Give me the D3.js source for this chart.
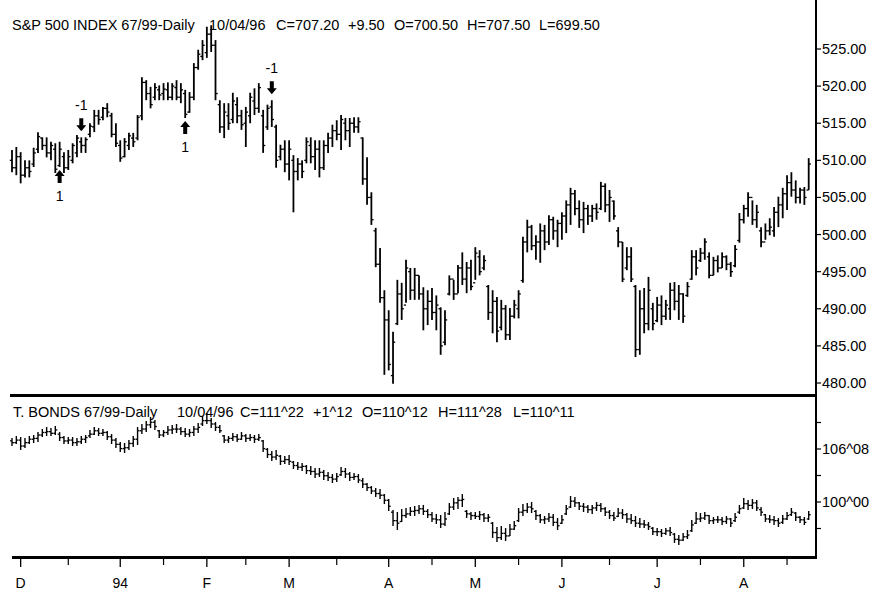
<!DOCTYPE html>
<html><head><meta charset="utf-8">
<script src="https://cdn.jsdelivr.net/npm/d3@7"></script>
<style>body{margin:0;background:#fff}svg{display:block}text{font-family:"Liberation Sans",Arial,sans-serif;fill:#000}</style>
</head><body><svg id="c" width="873" height="592"></svg>
<script>
// ---------- DATA ----------
const spxHigh=[511.4,511.8,511.1,510.0,510.0,511.7,513.8,513.1,513.1,512.5,
512.3,512.5,511.1,511.4,512.3,513.4,513.1,513.1,515.0,516.8,
516.8,517.2,517.7,516.4,515.0,512.7,513.0,513.7,513.7,516.1,
521.2,520.8,519.9,520.4,520.1,520.4,520.5,520.4,520.8,520.4,
519.5,519.2,523.1,524.9,526.2,528.0,528.2,526.2,518.1,517.7,
517.7,519.1,518.5,516.8,517.2,519.1,519.7,520.4,516.8,517.5,
518.1,514.8,512.1,512.7,512.7,510.7,510.3,510.0,513.1,513.1,
512.7,512.7,512.7,513.7,514.8,515.4,516.1,515.7,515.7,515.8,
515.8,513.1,510.4,505.7,500.9,498.2,492.5,489.8,486.9,493.9,
493.5,496.6,495.5,495.5,494.5,492.9,492.5,492.8,491.8,490.2,
489.8,494.5,493.9,495.9,497.6,496.3,496.6,498.3,497.9,497.2,
493.2,492.5,491.6,491.2,490.5,490.1,491.2,492.5,499.7,502.0,
501.3,499.9,501.5,501.3,502.6,502.4,502.0,503.0,504.6,506.3,
506.0,504.6,504.4,504.0,504.0,504.2,507.1,506.9,506.0,504.6,
501.0,499.0,498.3,498.3,493.2,492.5,492.8,494.3,490.8,491.6,
491.8,491.2,493.5,493.6,493.2,492.1,493.6,497.9,497.9,498.2,
499.5,497.6,497.0,497.2,497.6,497.2,496.3,498.6,502.9,504.0,
505.7,504.6,504.0,501.0,501.5,502.2,503.7,505.1,506.3,508.0,
508.4,507.3,506.3,506.4,510.3];
const spxLow=[508.4,508.0,506.9,507.7,507.7,509.1,511.0,511.4,510.4,510.0,
508.3,509.1,508.3,508.7,509.6,510.4,511.0,511.0,513.1,513.8,
514.8,515.4,515.8,513.1,511.8,509.8,510.4,511.4,511.8,512.7,
515.4,518.1,517.0,518.1,518.1,518.1,518.1,518.1,518.1,517.7,
515.7,516.4,518.1,522.2,523.5,523.8,524.6,518.1,513.7,513.0,
514.1,515.0,515.0,514.1,511.8,515.0,516.1,516.4,511.0,514.1,
514.5,509.0,510.0,508.4,507.3,503.0,507.3,507.6,509.6,509.6,
508.7,507.7,508.7,511.0,511.8,512.7,511.4,512.7,511.8,513.7,
513.7,506.7,504.0,501.3,495.6,490.8,481.1,481.7,479.9,487.8,
488.5,490.8,491.2,491.2,491.2,487.1,487.8,488.5,487.1,483.8,
485.1,491.8,491.2,492.1,493.2,492.1,492.5,493.9,494.5,495.2,
488.5,486.7,485.5,487.1,485.8,485.8,488.7,488.7,493.5,497.6,
497.9,496.6,496.2,497.9,498.6,499.3,498.3,499.3,500.2,501.3,
502.6,500.9,500.2,501.3,501.7,502.0,503.3,503.0,501.7,502.0,
498.3,493.6,495.2,493.6,483.5,483.8,486.7,487.1,487.1,488.2,
487.8,488.5,488.5,489.8,488.5,488.1,491.6,493.9,494.5,496.3,
496.6,494.1,494.5,494.9,495.5,495.2,494.3,495.6,498.9,501.5,
502.4,501.3,500.9,498.3,499.3,499.9,499.7,501.0,502.2,503.3,
505.1,504.2,504.2,504.0,506.0];
const spxOpen=[510.0,509.0,510.5,508.0,509.0,509.5,511.5,513.0,512.0,511.0,
511.5,509.3,510.5,509.0,510.0,511.0,512.5,512.0,513.5,514.5,
516.0,515.8,517.0,516.0,513.5,512.0,510.5,512.0,513.0,513.0,
516.0,520.5,519.0,518.5,519.5,519.0,519.5,518.5,519.8,518.5,
519.0,516.5,518.5,522.5,524.0,524.5,527.0,525.5,517.5,514.5,
516.0,515.5,517.5,516.0,515.0,516.0,518.0,517.0,516.0,514.5,
517.2,514.5,510.5,511.5,509.5,510.0,508.5,509.5,510.0,512.0,
510.5,511.5,509.0,512.0,513.0,514.0,513.5,515.0,514.0,515.0,
514.5,513.0,507.5,505.0,500.5,496.0,491.5,488.5,481.0,488.0,
492.0,490.5,495.0,492.5,494.5,492.0,490.0,491.0,489.5,490.0,
485.5,492.0,494.0,492.0,495.5,494.0,495.5,493.5,497.0,495.5,
493.0,489.5,491.0,487.5,490.0,486.5,489.0,490.0,493.8,499.0,
501.0,498.5,499.0,500.5,499.0,502.0,500.5,501.5,502.5,504.0,
505.5,503.5,502.0,503.5,502.5,503.5,503.5,506.5,504.0,504.5,
500.5,499.0,495.5,497.0,493.0,484.5,490.0,488.0,490.0,488.4,
490.5,489.0,490.0,492.5,491.0,492.0,491.8,494.0,497.0,496.5,
497.5,497.0,494.5,496.5,495.5,497.0,496.0,495.8,499.2,502.0,
503.5,505.0,502.0,500.5,499.0,500.5,500.5,503.0,504.0,505.5,
507.0,506.0,505.0,506.0,506.0];
const spxClose=[509.0,510.5,508.0,509.0,508.5,511.0,513.2,512.0,511.0,512.0,
508.8,511.5,509.0,510.5,512.0,513.0,512.0,512.8,514.6,516.0,
515.5,517.0,516.5,513.5,512.3,510.3,512.5,513.3,512.5,515.8,
520.5,519.0,517.5,519.8,518.8,519.6,518.5,520.0,518.5,519.5,
516.2,518.5,522.5,524.3,525.5,527.0,525.5,519.0,514.5,516.5,
515.0,518.0,516.0,514.8,516.5,518.5,517.0,519.8,512.0,517.0,
515.5,510.0,511.5,509.5,511.5,508.5,509.5,508.5,512.5,510.5,
511.5,509.0,512.0,513.0,514.0,513.5,515.5,514.0,515.0,514.5,
515.2,507.5,505.0,502.0,496.0,491.5,488.5,482.5,485.5,492.0,
490.0,495.5,492.5,494.5,492.0,490.0,491.0,489.5,490.5,485.0,
488.5,494.0,492.0,495.5,494.0,495.5,493.0,497.5,495.0,496.5,
489.5,491.0,487.0,490.0,486.5,489.0,490.5,492.0,499.0,501.0,
498.5,499.0,500.5,499.0,502.0,500.5,501.5,502.5,504.0,505.5,
503.5,502.0,503.5,502.5,503.5,503.0,506.5,504.0,505.0,502.5,
499.0,494.0,497.0,494.0,484.5,490.0,488.0,492.5,488.0,490.5,
489.0,490.5,492.5,491.0,492.0,489.0,493.0,497.0,495.5,497.5,
499.0,494.5,496.5,495.5,497.0,496.0,495.0,498.0,502.0,503.5,
505.0,502.0,503.0,499.0,500.5,501.0,503.0,504.0,505.5,507.0,
506.0,505.0,506.0,505.0,509.5];

const bondHigh=[107.55,107.78,107.66,107.55,107.78,107.90,108.25,108.61,108.84,108.72,
108.96,108.25,107.78,107.66,107.66,107.55,107.78,107.90,108.49,108.84,
108.72,108.61,108.37,108.02,107.55,107.07,106.96,107.31,107.78,108.84,
109.20,109.55,110.02,109.67,108.49,108.49,108.96,109.08,109.20,108.84,
108.72,108.61,108.96,109.31,110.14,110.49,109.90,109.43,109.08,107.90,
107.78,108.14,108.02,108.25,108.02,108.02,107.90,108.02,107.31,106.37,
106.01,106.13,105.54,105.42,105.54,104.83,104.72,104.60,104.36,104.24,
104.01,104.01,103.77,103.54,103.30,103.42,104.13,104.01,103.54,103.42,
103.30,102.83,102.24,101.89,101.65,101.53,100.94,100.35,99.06,98.82,
99.17,99.29,99.41,99.53,99.65,99.65,99.17,98.82,98.59,98.47,
98.82,99.88,100.47,100.59,100.94,99.06,98.82,98.82,98.94,98.70,
98.59,97.64,97.05,97.17,96.93,97.41,97.76,99.29,99.76,99.88,
100.00,99.06,98.59,98.35,98.70,98.59,98.11,98.47,99.65,100.71,
100.59,100.00,99.88,99.65,99.65,100.00,99.88,99.41,99.06,98.82,
99.29,99.17,98.70,98.59,98.35,98.11,97.88,97.64,97.05,96.93,
96.82,96.93,97.05,96.35,96.11,96.35,96.70,97.88,98.82,98.70,
98.82,98.47,98.23,98.35,98.23,98.35,98.11,98.70,99.65,100.47,
100.24,100.35,100.24,99.41,98.59,98.47,98.35,98.11,98.47,98.82,
99.29,98.82,98.35,98.23,98.94];
const bondLow=[106.60,106.84,106.13,106.37,106.84,106.96,107.07,107.66,107.78,107.78,
107.90,107.19,106.84,106.84,106.60,106.60,106.84,106.96,107.55,107.90,
107.78,107.78,107.31,106.84,106.37,105.90,105.78,106.13,106.48,106.72,
108.02,108.25,108.72,108.49,107.55,107.66,107.90,108.02,108.14,107.90,
107.66,107.66,107.78,108.14,108.96,109.20,108.72,108.37,108.14,106.96,
106.96,107.19,107.07,107.31,107.07,107.19,106.96,107.19,105.90,105.19,
104.83,104.95,104.36,104.48,104.36,103.89,103.77,103.65,103.30,103.18,
102.83,102.95,102.59,102.48,102.24,102.36,103.07,102.83,102.48,102.59,
102.24,101.65,101.30,100.94,100.59,100.35,99.76,98.94,97.17,96.70,
97.64,98.11,98.35,98.35,98.59,98.47,98.11,97.64,97.41,96.93,
97.17,98.47,99.06,99.17,99.41,98.11,97.88,98.00,97.88,97.64,
97.64,95.76,95.28,95.52,95.40,95.99,96.70,97.64,98.35,98.70,
98.70,97.88,97.52,97.41,97.64,97.17,96.70,97.41,98.47,99.29,
99.41,99.06,98.82,98.70,98.59,98.94,98.82,98.35,98.00,97.76,
98.23,98.00,97.52,97.41,97.05,96.93,96.93,96.70,96.11,95.99,
95.87,96.11,95.99,95.17,94.93,95.40,95.64,96.46,97.41,97.64,
97.88,97.41,97.41,97.52,97.29,97.41,97.05,97.64,98.59,99.17,
99.06,99.17,98.94,98.35,97.64,97.52,97.29,97.05,97.41,97.88,
98.35,97.76,97.52,97.29,97.88];
const bondOpen=[107.2,107.0,107.3,106.6,107.0,107.4,107.5,107.9,108.2,108.3,
108.1,108.0,107.6,107.2,107.3,107.0,107.1,107.4,107.8,108.0,
108.4,108.1,108.2,107.7,107.3,106.8,106.3,106.4,106.9,107.4,
108.4,108.6,109.1,109.4,108.4,107.9,108.2,108.5,108.6,108.6,
108.3,108.0,108.2,108.6,109.2,109.6,109.6,109.2,108.8,107.8,
107.3,107.5,107.7,107.4,107.8,107.5,107.6,107.4,107.2,106.2,
105.6,105.3,105.4,104.8,105.0,104.7,104.3,104.1,104.2,103.7,
103.6,103.3,103.5,103.1,102.9,102.7,103.2,103.6,103.3,102.9,
103.0,102.5,102.1,101.7,101.3,101.0,100.8,100.2,98.8,97.8,
97.7,98.4,98.6,98.9,99.0,99.2,98.9,98.5,98.0,97.9,
97.4,98.6,99.4,99.9,100.2,98.9,98.6,98.4,98.3,98.5,
98.1,97.5,96.4,95.8,96.3,96.0,96.8,97.8,98.8,99.0,
99.4,98.9,98.4,97.9,98.0,98.2,97.6,97.5,98.6,99.4,
100.1,99.9,99.5,99.4,99.1,99.3,99.6,99.2,98.8,98.4,
98.3,98.7,98.5,98.0,97.8,97.5,97.4,97.3,96.9,96.5,
96.5,96.3,96.6,96.2,95.6,95.5,95.9,96.6,97.5,98.0,
98.1,98.4,97.8,97.9,97.9,97.7,98.0,97.8,98.8,99.3,
99.8,99.6,99.9,99.1,98.5,98.0,97.9,97.8,97.6,98.0,
98.5,98.7,98.2,97.9,98.0];
const bondClose=[107.0,107.3,106.6,107.0,107.4,107.5,107.9,108.2,108.3,108.1,
108.5,107.6,107.2,107.3,107.0,107.1,107.4,107.6,108.0,108.4,
108.1,108.2,107.7,107.3,106.8,106.3,106.4,106.9,107.4,108.4,
108.6,109.1,109.4,108.9,107.9,108.2,108.5,108.6,108.6,108.3,
108.0,108.2,108.6,108.8,109.6,109.6,109.2,108.8,108.4,107.3,
107.5,107.7,107.4,107.8,107.5,107.6,107.4,107.6,106.3,105.6,
105.3,105.5,104.8,105.0,104.8,104.3,104.1,104.2,103.7,103.6,
103.3,103.5,103.1,102.9,102.7,103.0,103.6,103.3,102.9,103.0,
102.6,102.1,101.7,101.3,101.0,100.8,100.2,99.5,97.8,97.5,
98.4,98.6,98.9,99.0,99.2,98.9,98.5,98.0,97.9,97.4,
98.0,99.4,99.9,100.2,100.3,98.6,98.4,98.3,98.5,98.1,
98.2,96.4,95.8,96.3,96.0,96.8,97.2,98.8,99.0,99.4,
99.2,98.4,97.9,98.0,98.2,97.6,97.2,97.9,99.2,100.1,
99.9,99.5,99.4,99.1,99.3,99.6,99.2,98.8,98.4,98.1,
98.7,98.5,98.0,97.8,97.5,97.4,97.3,97.1,96.5,96.5,
96.3,96.6,96.4,95.6,95.5,95.9,96.1,97.3,98.0,98.1,
98.4,97.8,97.9,97.9,97.7,98.0,97.5,98.2,99.2,99.8,
99.6,99.9,99.3,98.8,98.0,97.9,97.8,97.5,98.0,98.4,
98.8,98.2,97.9,97.6,98.5];

const monthLabels=["D","94","F","M","A","M","J","J","A"];
const monthIndex=[2,25,45,64,87,107,127,149,169];
const midMonthIndex=[13,35,54,75,97,117,138,159,179];
const spxTicks=[525,520,515,510,505,500,495,490,485,480];
const bondTickValues=[109.375,106.25,103.125,100,96.875];
const bondTickLabels=["","106^08","","100^00",""];
const signalIndex=[11,16,40,60];
const signalDir=["up","down","up","down"];
const signalLabel=["1","-1","1","-1"];
const spxHeader=["S&P 500 INDEX 67/99-Daily","10/04/96","C=707.20","+9.50","O=700.50","H=707.50","L=699.50"];
const bondHeader=["T. BONDS 67/99-Daily","10/04/96","C=111^22","+1^12","O=110^12","H=111^28","L=110^11"];

// ---------- DRAW ----------
const svg=d3.select("#c");
const n=spxHigh.length;
const x=d3.scaleLinear().domain([0,n-1]).range([12,808.7]);
const yS=d3.scaleLinear().domain([480,525]).range([383,49]);
const yB=d3.scaleLinear().domain([100,106.25]).range([502,449]);

function bars(g,H,L,O,C,y,w,tk){
  const idx=d3.range(H.length);
  g.selectAll("line.hl").data(idx).join("line").attr("class","hl")
    .attr("x1",i=>x(i)).attr("x2",i=>x(i)).attr("y1",i=>y(H[i])).attr("y2",i=>y(L[i]))
    .attr("stroke","#000").attr("stroke-width",w);
  g.selectAll("line.o").data(idx).join("line").attr("class","o")
    .attr("x1",i=>x(i)-tk).attr("x2",i=>x(i)).attr("y1",i=>y(O[i])).attr("y2",i=>y(O[i]))
    .attr("stroke","#000").attr("stroke-width",1.3);
  g.selectAll("line.c").data(idx).join("line").attr("class","c")
    .attr("x1",i=>x(i)).attr("x2",i=>x(i)+tk).attr("y1",i=>y(C[i])).attr("y2",i=>y(C[i]))
    .attr("stroke","#000").attr("stroke-width",1.3);
}
bars(svg.append("g"),spxHigh,spxLow,spxOpen,spxClose,yS,1.8,2.2);
bars(svg.append("g"),bondHigh,bondLow,bondOpen,bondClose,yB,1.4,2.0);

// headers
const hx1=[12,209,276,348,394,467,539];
spxHeader.forEach((t,k)=>svg.append("text").attr("x",hx1[k]).attr("y",30).attr("font-size",14.5).text(t));
const hx2=[13,177,240,313,362,438,513];
bondHeader.forEach((t,k)=>svg.append("text").attr("x",hx2[k]).attr("y",417).attr("font-size",14.5).text(t));

// frame lines
svg.append("line").attr("x1",816).attr("x2",816).attr("y1",0).attr("y2",559).attr("stroke","#000").attr("stroke-width",2);
svg.append("line").attr("x1",10).attr("x2",817).attr("y1",395.5).attr("y2",395.5).attr("stroke","#000").attr("stroke-width",3);
svg.append("line").attr("x1",12).attr("x2",817).attr("y1",557.5).attr("y2",557.5).attr("stroke","#000").attr("stroke-width",3);

// right axes
const gr=svg.append("g");
spxTicks.forEach(t=>{
  gr.append("line").attr("x1",816).attr("x2",821).attr("y1",yS(t)).attr("y2",yS(t)).attr("stroke","#000").attr("stroke-width",1.2);
  gr.append("text").attr("x",822).attr("y",yS(t)+5).attr("font-size",14.5).text(d3.format(".2f")(t));
});
bondTickValues.forEach((t,k)=>{
  gr.append("line").attr("x1",816).attr("x2",821).attr("y1",yB(t)).attr("y2",yB(t)).attr("stroke","#000").attr("stroke-width",1.2);
  if(bondTickLabels[k]) gr.append("text").attr("x",822).attr("y",yB(t)+5).attr("font-size",14.5).text(bondTickLabels[k]);
});

// x axis
const gx=svg.append("g");
monthIndex.forEach((m,k)=>{
  gx.append("line").attr("x1",x(m)).attr("x2",x(m)).attr("y1",559).attr("y2",567).attr("stroke","#000").attr("stroke-width",1.3);
  gx.append("text").attr("x",x(m)).attr("y",588).attr("text-anchor","middle").attr("font-size",14).text(monthLabels[k]);
});
midMonthIndex.forEach(m=>{
  gx.append("line").attr("x1",x(m)).attr("x2",x(m)).attr("y1",559).attr("y2",565).attr("stroke","#000").attr("stroke-width",1.2);
});

// signal arrows
signalIndex.forEach((i,k)=>{
  const cx=x(i);
  let p,ly;
  if(signalDir[k]==="up"){
    const t=yS(spxLow[i])+3;
    p=[[cx,t],[cx+5,t+6],[cx+2,t+6],[cx+2,t+13],[cx-2,t+13],[cx-2,t+6],[cx-5,t+6]];
    ly=t+31;
  } else {
    const t=yS(spxHigh[i])-6;
    p=[[cx,t],[cx+5,t-6],[cx+2,t-6],[cx+2,t-13],[cx-2,t-13],[cx-2,t-6],[cx-5,t-6]];
    ly=t-21;
  }
  svg.append("path").attr("d",d3.line()(p)+"Z").attr("fill","#000");
  svg.append("text").attr("x",cx).attr("y",ly).attr("text-anchor","middle").attr("font-size",14).text(signalLabel[k]);
});
</script></body></html>
